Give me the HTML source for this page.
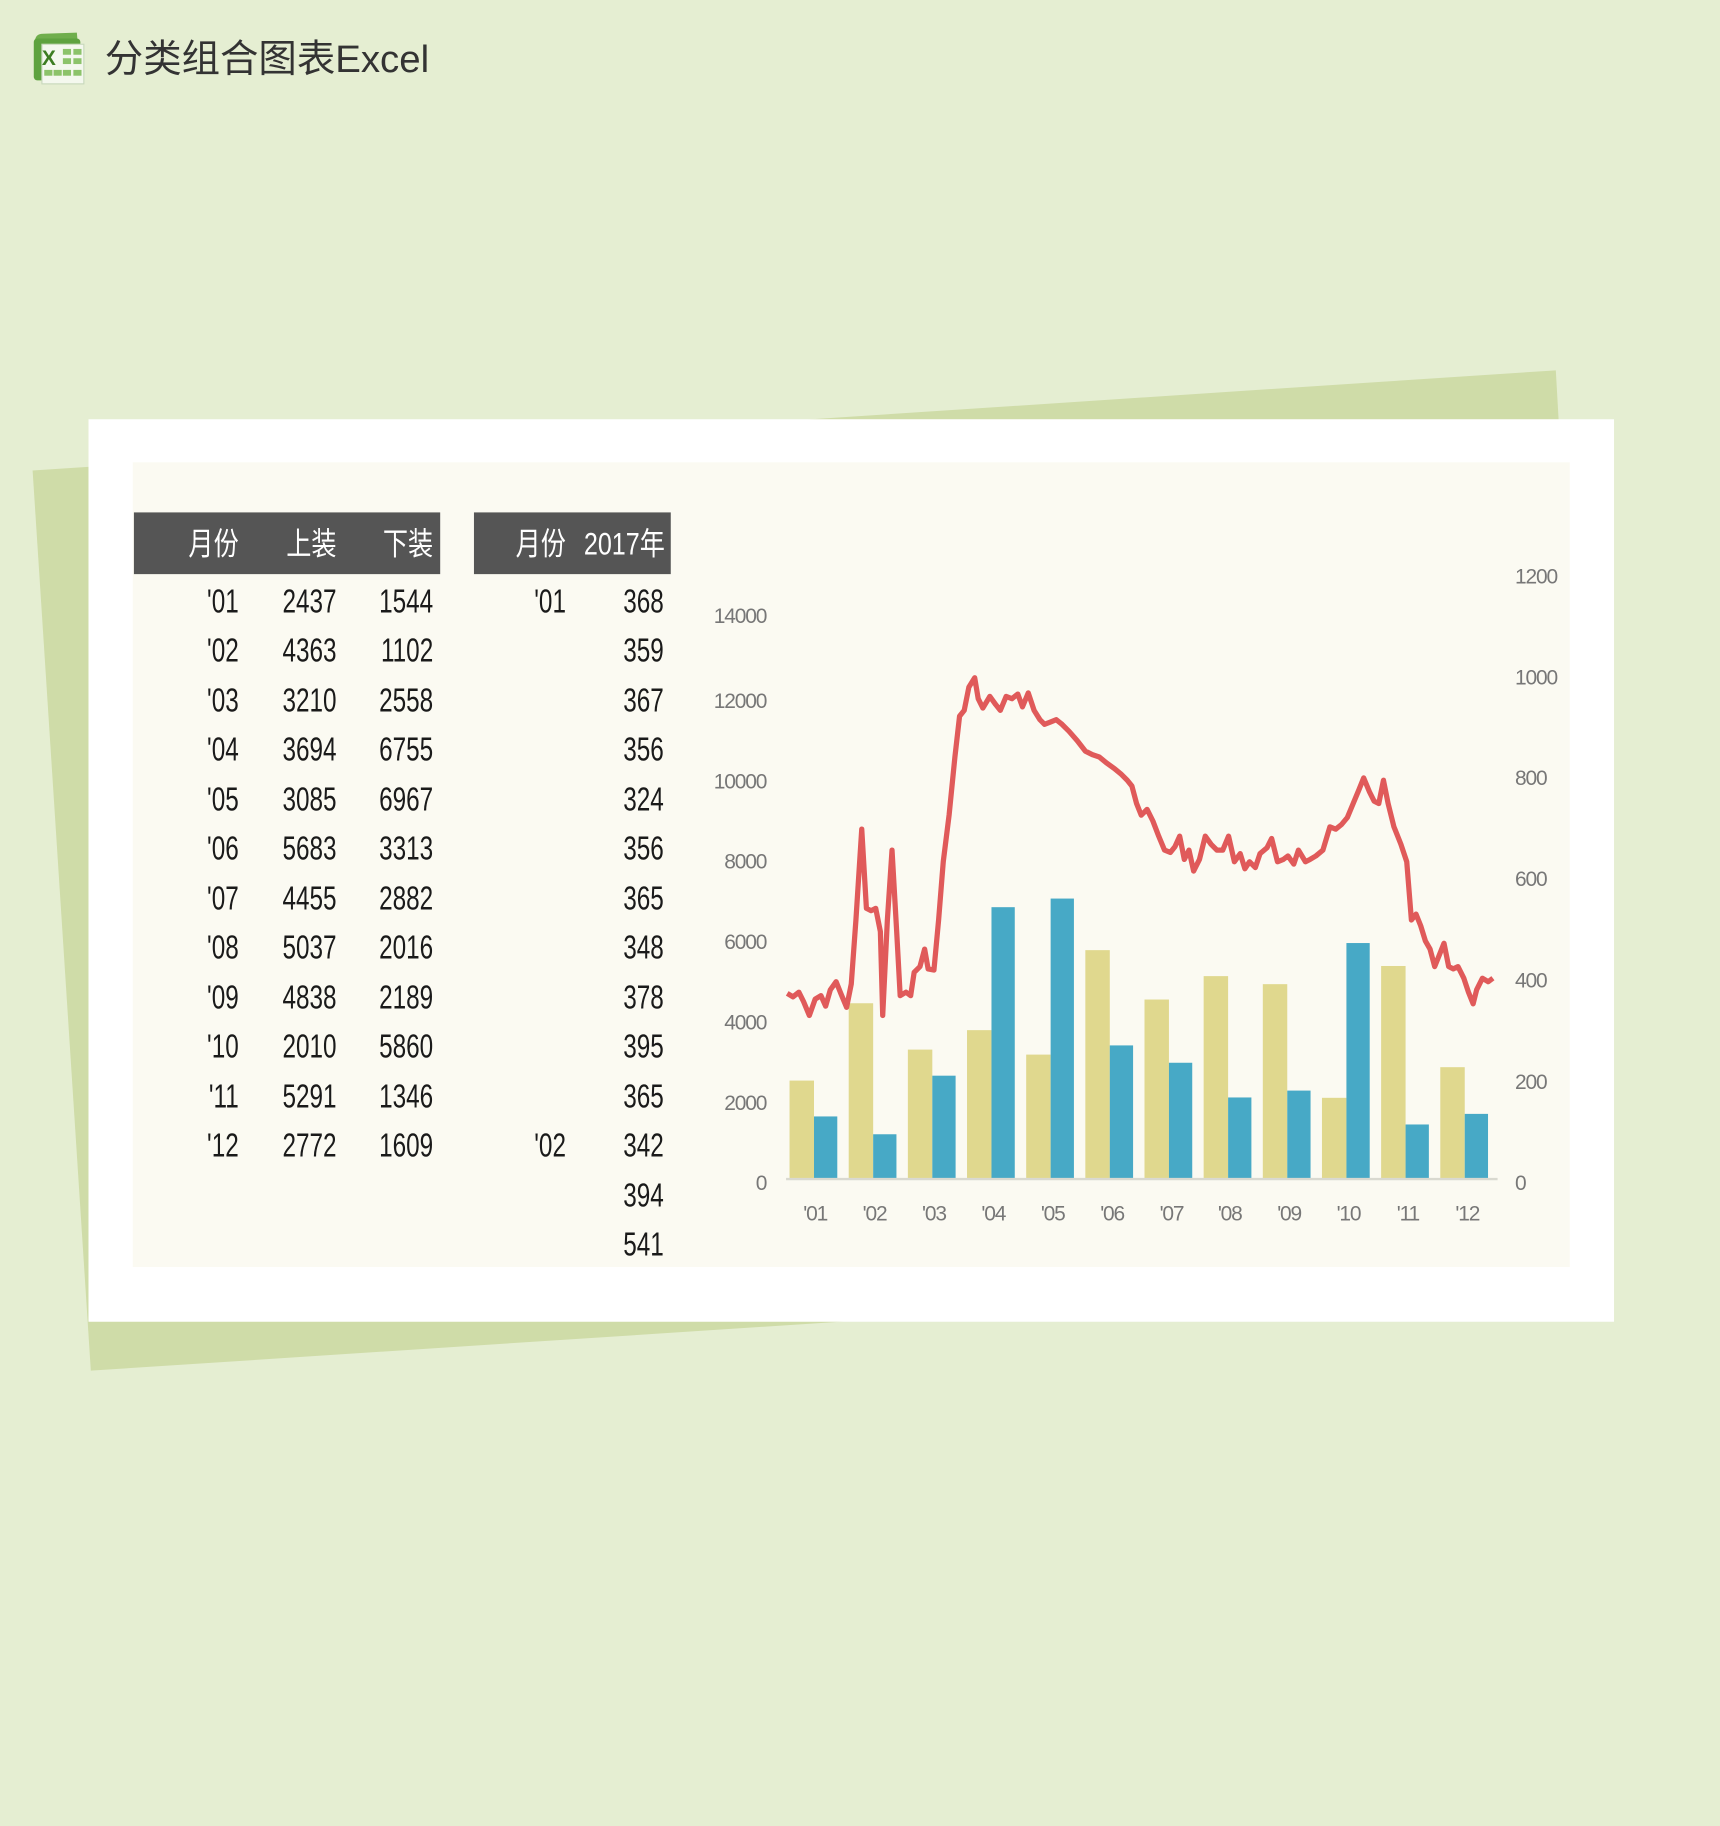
<!DOCTYPE html>
<html><head><meta charset="utf-8"><style>
html,body{margin:0;padding:0;background:#e5eed2;}
svg{display:block}
.t{font-family:"Liberation Sans","Noto Sans CJK SC",sans-serif;}
</style></head><body>
<svg width="1720" height="1826" viewBox="0 0 1477 1568" xmlns="http://www.w3.org/2000/svg">
<rect width="1477" height="1568" fill="#e5eed2"/>
<g>
<path d="M30 36 Q30 29 37 29 L66 28 L67 40 L31 42 Z" fill="#6fae4c"/>
<rect x="29" y="33" width="40" height="36" rx="3" fill="#5ea23f"/>
<rect x="36" y="38" width="36" height="34" fill="#f4f8ee" stroke="#c9d9bd"/>
<g fill="#8cc36a"><rect x="54" y="42" width="7" height="5"/><rect x="63" y="42" width="7" height="5"/><rect x="54" y="50" width="7" height="5"/><rect x="63" y="50" width="7" height="5"/><rect x="38" y="60" width="7" height="5"/><rect x="46" y="60" width="7" height="5"/><rect x="54" y="60" width="7" height="5"/><rect x="63" y="60" width="7" height="5"/></g>
<text x="36" y="56" font-family="Liberation Sans" font-weight="bold" font-size="18" fill="#3d7d22">X</text>
</g>
<text x="90" y="62" font-family="'Liberation Sans','Noto Sans CJK SC',sans-serif" font-size="33" fill="#333">分类组合图表Excel</text>
<polygon points="28,404 1336,318 1380,1092 78,1177" fill="#cfdca8"/>
<rect x="76" y="360" width="1310" height="775" fill="#ffffff"/>
<rect x="114" y="397" width="1234" height="691" fill="#fbfaf2"/>
<rect x="115" y="440" width="263" height="53" fill="#555555"/>
<rect x="407" y="440" width="169" height="53" fill="#555555"/>
<g class="t" font-size="27" fill="#fff" text-anchor="end">
<g transform="translate(205,0) scale(0.8,1)"><text x="0" y="476">月份</text></g>
<g transform="translate(289,0) scale(0.8,1)"><text x="0" y="476">上装</text></g>
<g transform="translate(372,0) scale(0.8,1)"><text x="0" y="476">下装</text></g>
<g transform="translate(486,0) scale(0.8,1)"><text x="0" y="476">月份</text></g>
<g transform="translate(571,0) scale(0.8,1)"><text x="0" y="476">2017年</text></g>
</g>
<g class="t" font-size="29" fill="#1a1a1a" text-anchor="end">
<g transform="translate(205,0) scale(0.72,1)">
<text x="0" y="526">'01</text><text x="0" y="568">'02</text><text x="0" y="611">'03</text><text x="0" y="653">'04</text><text x="0" y="696">'05</text><text x="0" y="738">'06</text><text x="0" y="781">'07</text><text x="0" y="823">'08</text><text x="0" y="866">'09</text><text x="0" y="908">'10</text><text x="0" y="951">'11</text><text x="0" y="993">'12</text>
</g>
<g transform="translate(289,0) scale(0.72,1)">
<text x="0" y="526">2437</text><text x="0" y="568">4363</text><text x="0" y="611">3210</text><text x="0" y="653">3694</text><text x="0" y="696">3085</text><text x="0" y="738">5683</text><text x="0" y="781">4455</text><text x="0" y="823">5037</text><text x="0" y="866">4838</text><text x="0" y="908">2010</text><text x="0" y="951">5291</text><text x="0" y="993">2772</text>
</g>
<g transform="translate(372,0) scale(0.72,1)">
<text x="0" y="526">1544</text><text x="0" y="568">1102</text><text x="0" y="611">2558</text><text x="0" y="653">6755</text><text x="0" y="696">6967</text><text x="0" y="738">3313</text><text x="0" y="781">2882</text><text x="0" y="823">2016</text><text x="0" y="866">2189</text><text x="0" y="908">5860</text><text x="0" y="951">1346</text><text x="0" y="993">1609</text>
</g>
<g transform="translate(486,0) scale(0.72,1)">
<text x="0" y="526">'01</text><text x="0" y="993">'02</text>
</g>
<g transform="translate(570,0) scale(0.72,1)">
<text x="0" y="526">368</text><text x="0" y="568">359</text><text x="0" y="611">367</text><text x="0" y="653">356</text><text x="0" y="696">324</text><text x="0" y="738">356</text><text x="0" y="781">365</text><text x="0" y="823">348</text><text x="0" y="866">378</text><text x="0" y="908">395</text><text x="0" y="951">365</text><text x="0" y="993">342</text><text x="0" y="1036">394</text><text x="0" y="1078">541</text>
</g>
</g>
<g font-family="'Liberation Sans',sans-serif" font-size="18" fill="#777" text-anchor="end" letter-spacing="-1">
<text x="658" y="1022">0</text><text x="658" y="953">2000</text><text x="658" y="884">4000</text><text x="658" y="815">6000</text><text x="658" y="746">8000</text><text x="658" y="677">10000</text><text x="658" y="608">12000</text><text x="658" y="535">14000</text>
</g>
<g font-family="'Liberation Sans',sans-serif" font-size="18" fill="#777" letter-spacing="-1">
<text x="1301" y="1022">0</text><text x="1301" y="935">200</text><text x="1301" y="848">400</text><text x="1301" y="761">600</text><text x="1301" y="674">800</text><text x="1301" y="588">1000</text><text x="1301" y="501">1200</text>
</g>
<g fill="#e0d88e">
<rect x="678" y="927.9" width="21" height="84.1"/><rect x="728.8" y="861.5" width="21" height="150.5"/><rect x="779.6" y="901.3" width="21" height="110.7"/><rect x="830.4" y="884.6" width="21" height="127.4"/><rect x="881.2" y="905.6" width="21" height="106.4"/><rect x="932" y="815.9" width="21" height="196.1"/><rect x="982.8" y="858.3" width="21" height="153.7"/><rect x="1033.6" y="838.2" width="21" height="173.8"/><rect x="1084.4" y="845.1" width="21" height="166.9"/><rect x="1135.2" y="942.7" width="21" height="69.3"/><rect x="1186" y="829.5" width="21" height="182.5"/><rect x="1236.8" y="916.4" width="21" height="95.6"/>
</g>
<g fill="#47a9c6">
<rect x="699" y="958.7" width="20" height="53.3"/><rect x="749.8" y="974" width="20" height="38"/><rect x="800.6" y="923.7" width="20" height="88.3"/><rect x="851.4" y="779" width="20" height="233"/><rect x="902.2" y="771.6" width="20" height="240.4"/><rect x="953" y="897.7" width="20" height="114.3"/><rect x="1003.8" y="912.6" width="20" height="99.4"/><rect x="1054.6" y="942.4" width="20" height="69.6"/><rect x="1105.4" y="936.5" width="20" height="75.5"/><rect x="1156.2" y="809.8" width="20" height="202.2"/><rect x="1207" y="965.6" width="20" height="46.4"/><rect x="1257.8" y="956.5" width="20" height="55.5"/>
</g>
<line x1="675" y1="1012.5" x2="1286" y2="1012.5" stroke="#d9d9d0" stroke-width="2"/>
<g font-family="'Liberation Sans',sans-serif" font-size="18" fill="#777" text-anchor="middle" letter-spacing="-1">
<text x="700" y="1048">'01</text><text x="751" y="1048">'02</text><text x="802" y="1048">'03</text><text x="853" y="1048">'04</text><text x="904" y="1048">'05</text><text x="955" y="1048">'06</text><text x="1006" y="1048">'07</text><text x="1056" y="1048">'08</text><text x="1107" y="1048">'09</text><text x="1158" y="1048">'10</text><text x="1209" y="1048">'11</text><text x="1260" y="1048">'12</text>
</g>
<polyline fill="none" stroke="#e05a5a" stroke-width="4.5" stroke-linejoin="round" points="676,853 681,856 686,852 690,860 695,872 700,858 705,855 709,864 713,850 718,843 722,853 727,865 731,845 735,790 740,712 744,780 748,782 752,780 756,800 758,872 762,790 766,730 770,800 773,855 778,852 782,855 785,835 790,830 794,815 797,832 802,833 806,790 810,740 815,700 820,650 824,615 828,610 832,590 837,582 840,600 844,608 850,598 855,605 859,610 864,598 869,600 874,596 878,607 883,595 888,610 893,618 897,622 902,620 907,618 912,622 918,628 925,636 932,645 938,648 944,650 950,655 957,660 963,665 968,670 972,675 976,690 980,700 985,695 990,705 995,718 1000,730 1005,732 1009,727 1013,718 1017,738 1021,730 1025,748 1030,738 1035,718 1040,725 1045,730 1050,730 1055,718 1060,740 1065,733 1069,746 1073,740 1078,745 1082,733 1088,728 1092,720 1097,740 1102,738 1106,735 1111,742 1115,730 1121,740 1125,738 1130,735 1136,730 1142,710 1147,712 1152,708 1157,702 1162,690 1167,678 1171,668 1176,680 1180,688 1184,690 1188,670 1192,690 1197,710 1203,725 1208,740 1212,790 1216,785 1220,795 1224,808 1228,815 1232,830 1236,820 1240,810 1244,830 1248,832 1252,830 1257,840 1261,852 1265,862 1268,850 1273,840 1278,843 1282,840"/>
</svg>
</body></html>
